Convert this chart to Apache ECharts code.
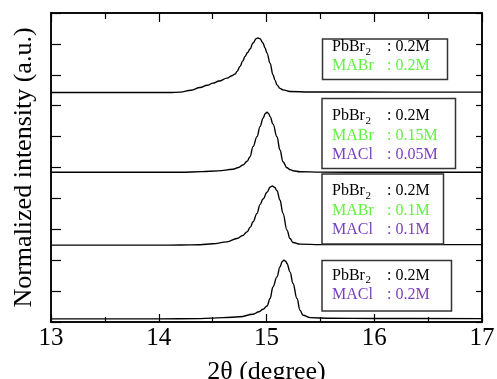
<!DOCTYPE html>
<html>
<head>
<meta charset="utf-8">
<script src="https://cdn.jsdelivr.net/npm/echarts@6/dist/echarts.min.js"></script>
<style>
  html, body { margin: 0; padding: 0; background: #fff; }
  #chart { width: 497px; height: 379px; }
</style>
</head>
<body>
<div id="chart"></div>
<script>
// x-axis ticks
const xTicks = [13, 14, 15, 16, 17];

// curve 1: PbBr2 0.2M / MABr 0.2M (top, offset already in values)
const theta1 = [13.0, 13.6, 14.1, 14.2, 14.3, 14.383, 14.45, 14.503, 14.56, 14.633, 14.68, 14.71, 14.726, 14.754, 14.78, 14.8, 14.825, 14.847, 14.875, 14.903, 14.92, 14.94, 14.968, 14.985, 15.005, 15.033, 15.06, 15.08, 15.097, 15.125, 15.153, 15.218, 15.4, 16.2, 17.0];
const int1 = [7.425, 7.43, 7.425, 7.44, 7.5, 7.588, 7.66, 7.73, 7.8, 7.892, 7.97, 8.03, 8.106, 8.268, 8.45, 8.593, 8.72, 8.833, 9.027, 9.167, 9.19, 9.167, 9.027, 8.88, 8.703, 8.379, 8.0, 7.82, 7.675, 7.56, 7.513, 7.458, 7.445, 7.44, 7.438];

// curve 2: PbBr2 0.2M / MABr 0.15M / MACl 0.05M
const theta2 = [13.0, 14.0, 14.2, 14.4, 14.55, 14.689, 14.74, 14.782, 14.82, 14.847, 14.875, 14.912, 14.94, 14.968, 14.99, 15.005, 15.02, 15.033, 15.06, 15.097, 15.125, 15.153, 15.19, 15.22, 15.246, 15.311, 15.5, 16.0, 17.0];
const int2 = [4.844, 4.845, 4.846, 4.865, 4.89, 4.942, 5.0, 5.081, 5.2, 5.35, 5.674, 5.999, 6.323, 6.595, 6.75, 6.79, 6.74, 6.647, 6.411, 5.999, 5.568, 5.188, 4.993, 4.93, 4.896, 4.864, 4.85, 4.846, 4.844];

// curve 3: PbBr2 0.2M / MABr 0.1M / MACl 0.1M
const theta3 = [13.0, 14.0, 14.2, 14.383, 14.5, 14.633, 14.726, 14.78, 14.819, 14.85, 14.875, 14.912, 14.94, 14.968, 15.005, 15.035, 15.054, 15.075, 15.097, 15.125, 15.153, 15.19, 15.218, 15.246, 15.311, 15.5, 16.0, 17.0];
const int3 = [2.487, 2.487, 2.49, 2.5, 2.53, 2.594, 2.704, 2.8, 2.918, 3.07, 3.243, 3.515, 3.8, 3.98, 4.2, 4.37, 4.4, 4.36, 4.25, 3.946, 3.515, 2.973, 2.704, 2.575, 2.519, 2.505, 2.503, 2.503];

// curve 4: PbBr2 0.2M / MACl 0.2M (bottom)
const theta4 = [13.0, 14.0, 14.383, 14.6, 14.754, 14.875, 14.93, 14.968, 15.005, 15.033, 15.06, 15.097, 15.125, 15.145, 15.162, 15.18, 15.19, 15.218, 15.246, 15.283, 15.311, 15.339, 15.404, 15.6, 16.0, 17.0];
const int4 = [0.1, 0.1, 0.11, 0.14, 0.17, 0.25, 0.33, 0.412, 0.52, 0.759, 1.135, 1.459, 1.783, 1.95, 2.001, 1.96, 1.894, 1.621, 1.245, 0.759, 0.379, 0.217, 0.143, 0.12, 0.115, 0.11];

// legend box contents: [main, subscript, value, colour key]
const box1 = [['PbBr', '2', ': 0.2M', 'k'], ['MABr', '', ': 0.2M', 'g']];
const box2 = [['PbBr', '2', ': 0.2M', 'k'], ['MABr', '', ': 0.15M', 'g'], ['MACl', '', ': 0.05M', 'p']];
const box3 = [['PbBr', '2', ': 0.2M', 'k'], ['MABr', '', ': 0.1M', 'g'], ['MACl', '', ': 0.1M', 'p']];
const box4 = [['PbBr', '2', ': 0.2M', 'k'], ['MACl', '', ': 0.2M', 'p']];

const colours = { k: '#000000', g: '#62f240', p: '#7b40bd' };
const serif = 'Liberation Serif';

const chart = echarts.init(document.getElementById('chart'));

function pairs(xs, ys) {
  return xs.map((x, i) => [x, ys[i]]);
}

// build graphic elements for one annotation box
function makeBox(rows, left, top, right, bottom, rowY) {
  const els = [{
    type: 'rect',
    shape: { x: left, y: top, width: right - left, height: bottom - top },
    style: { fill: '#fff', stroke: '#333', lineWidth: 1.5 },
    z: 100
  }];
  rows.forEach((r, i) => {
    const c = colours[r[3]];
    els.push({
      type: 'text', x: 332, y: rowY[i], z: 101,
      style: { text: r[0], fill: c, font: '16px "' + serif + '"', verticalAlign: 'middle' }
    });
    if (r[1]) {
      els.push({
        type: 'text', x: 365.5, y: rowY[i] + 5, z: 101,
        style: { text: r[1], fill: c, font: '11px "' + serif + '"', verticalAlign: 'middle' }
      });
    }
    els.push({
      type: 'text', x: 387, y: rowY[i], z: 101,
      style: { text: r[2], fill: c, font: '16px "' + serif + '"', verticalAlign: 'middle' }
    });
  });
  return els;
}

const lineStyle = { color: '#000', width: 1.4 };

function curve(xs, ys) {
  return {
    type: 'line', data: pairs(xs, ys), showSymbol: false,
    smooth: 0.4, smoothMonotone: 'x', lineStyle: lineStyle
  };
}

const option = {
  animation: false,
  backgroundColor: '#fff',
  grid: {
    left: 51, right: 15, top: 13, bottom: 57,
    outerBoundsMode: 'none',
    show: true, borderColor: '#000', borderWidth: 1.5, backgroundColor: 'transparent'
  },
  xAxis: [
    {
      type: 'value', position: 'bottom',
      min: xTicks[0], max: xTicks[xTicks.length - 1], interval: 1,
      axisLine: { show: true, onZero: false, lineStyle: { color: '#000', width: 1.5 } },
      axisTick: { inside: true, length: 8, lineStyle: { color: '#000', width: 1.2 } },
      minorTick: { show: true, splitNumber: 2, length: 5, lineStyle: { color: '#000', width: 1.2 } },
      splitLine: { show: false },
      axisLabel: { color: '#000', fontFamily: serif, fontSize: 25, margin: 4 },
      name: '2θ (degree)', nameLocation: 'middle', nameGap: 37,
      nameTextStyle: { color: '#000', fontFamily: serif, fontSize: 26 }
    },
    {
      type: 'value', position: 'top',
      min: xTicks[0], max: xTicks[xTicks.length - 1], interval: 1,
      axisLine: { show: true, onZero: false, lineStyle: { color: '#000', width: 1.5 } },
      axisTick: { inside: true, length: 9, lineStyle: { color: '#000', width: 1.2 } },
      minorTick: { show: true, splitNumber: 2, length: 6, lineStyle: { color: '#000', width: 1.2 } },
      splitLine: { show: false },
      axisLabel: { show: false }
    }
  ],
  yAxis: [
    {
      type: 'value', position: 'left', min: 0, max: 10, interval: 1,
      axisLine: { show: true, onZero: false, lineStyle: { color: '#000', width: 1.5 } },
      axisTick: { inside: true, length: 10, lineStyle: { color: '#000', width: 1.2 } },
      splitLine: { show: false },
      axisLabel: { show: false },
      name: 'Normalized intensity (a.u.)', nameLocation: 'middle', nameGap: 14,
      nameTextStyle: { color: '#000', fontFamily: serif, fontSize: 26 }
    },
    {
      type: 'value', position: 'right', min: 0, max: 10, interval: 1,
      axisLine: { show: true, onZero: false, lineStyle: { color: '#000', width: 1.5 } },
      axisTick: { inside: true, length: 6, lineStyle: { color: '#000', width: 1.2 } },
      splitLine: { show: false },
      axisLabel: { show: false }
    }
  ],
  series: [
    curve(theta1, int1),
    curve(theta2, int2),
    curve(theta3, int3),
    curve(theta4, int4)
  ],
  graphic: [].concat(
    makeBox(box1, 322.5, 39, 447.5, 79.5, [47, 66]),
    makeBox(box2, 322, 98.5, 455.5, 168.5, [116, 135.5, 155]),
    makeBox(box3, 322, 174, 443.5, 244, [191, 210.5, 230]),
    makeBox(box4, 322, 260.5, 451.5, 311, [275.5, 294.5])
  )
};

chart.setOption(option);
</script>
</body>
</html>
